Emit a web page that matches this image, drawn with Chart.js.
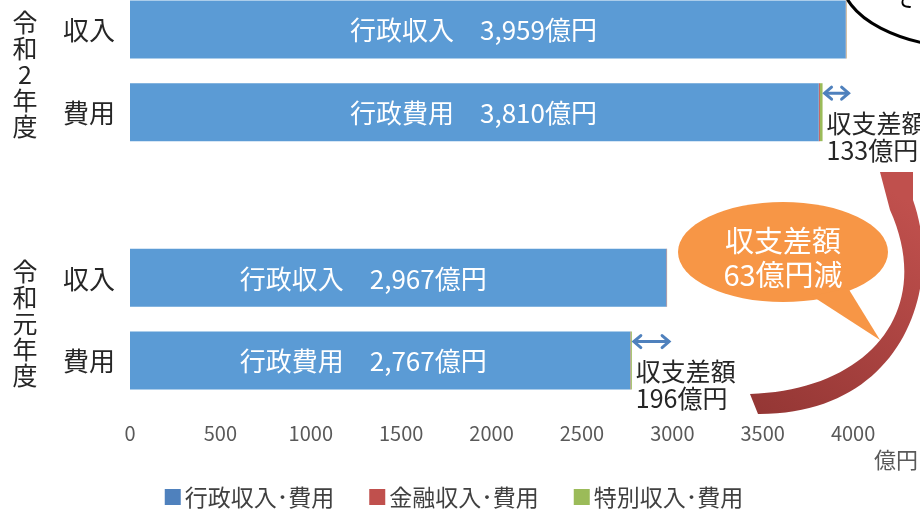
<!doctype html>
<html>
<head>
<meta charset="utf-8">
<title>収支差額</title>
<script src="https://cdn.jsdelivr.net/npm/chart.js@4.4.0/dist/chart.umd.min.js"></script>
<style>
html, body { margin: 0; padding: 0; background: #fff; overflow: hidden; }
#canvas-holder { position: absolute; left: 0; top: -12px; width: 920px; height: 523px; }
</style>
</head>
<body>
<div id="canvas-holder"><canvas id="chart-area"></canvas></div>
<script>
// data
var categories = ['収入', '費用', '', '収入', '費用'];
var yearLabels = ['令和2年度', '令和元年度'];
var seriesNames = ['行政収入･費用', '金融収入･費用', '特別収入･費用'];
var gyosei = [3959, 3810, null, 2967, 2767];
var kinyu = [3, 6, null, 3, 2];
var tokubetsu = [2, 15, null, 1, 7];
var barTexts = ['行政収入　3,959億円', '行政費用　3,810億円', '', '行政収入　2,967億円', '行政費用　2,767億円'];
var gapTexts = [['収支差額', '133億円'], ['収支差額', '196億円']];
var bubbleTexts = ['収支差額', '63億円減'];
var topNote = 'そ';
var unitLabel = '億円';
var xTickValues = [0, 500, 1000, 1500, 2000, 2500, 3000, 3500, 4000];
var xTickLabels = ['0', '500', '1000', '1500', '2000', '2500', '3000', '3500', '4000'];
var xMax = 4370;

var FONT = '"Noto Sans CJK JP", "Noto Sans", sans-serif';
var barColors = ['#5B9BD5', '#C0504D', '#9BBB59'];
var legendColors = ['#4F81BD', '#C0504D', '#9BBB59'];
var TOP = -12;   // canvas sits 12px above the page
function py(y) { return y - TOP; }

// year groups: [income row, cost row]
var groups = [[0, 1], [3, 4]];
var labelCenter = [1900, 1900, null, 1290, 1290];

function total(i) {
    return (gyosei[i] || 0) + (kinyu[i] || 0) + (tokubetsu[i] || 0);
}

function arrowHead(ctx, x, y, dir) {
    ctx.beginPath();
    ctx.moveTo(x - dir * 7, y - 6);
    ctx.lineTo(x, y);
    ctx.lineTo(x - dir * 7, y + 6);
    ctx.stroke();
}

var decor = {
    id: 'decor',
    afterDatasetsDraw: function(chart) {
        var ctx = chart.ctx;
        var xs = chart.scales.x, ys = chart.scales.y;
        ctx.save();

        // labels inside the bars
        ctx.font = '26px ' + FONT;
        ctx.fillStyle = '#fff';
        ctx.textAlign = 'center';
        ctx.textBaseline = 'middle';
        barTexts.forEach(function(t, i) {
            if (!t) return;
            ctx.fillText(t, xs.getPixelForValue(labelCenter[i]), ys.getPixelForValue(i) + 1);
        });

        // row names
        ctx.fillStyle = '#262626';
        ctx.textAlign = 'right';
        categories.forEach(function(c, i) {
            if (c) ctx.fillText(c, 115, ys.getPixelForValue(i) + 1);
        });

        // year labels, written top to bottom
        ctx.textAlign = 'center';
        ctx.font = '25px ' + FONT;
        groups.forEach(function(g, k) {
            var chars = Array.from(yearLabels[k]);
            var mid = (ys.getPixelForValue(g[0]) + ys.getPixelForValue(g[1])) / 2 + 4;
            var step = 26;
            var y0 = mid - step * (chars.length - 1) / 2;
            chars.forEach(function(c, j) {
                ctx.fillText(c, 25, y0 + j * step);
            });
        });

        // curved block arrow
        var grad = ctx.createLinearGradient(760, py(410), 905, py(200));
        grad.addColorStop(0, '#953735');
        grad.addColorStop(1, '#C0504D');
        ctx.fillStyle = grad;
        ctx.beginPath();
        ctx.moveTo(750, py(394));
        ctx.bezierCurveTo(870, py(390), 935, py(310), 890, py(210));
        ctx.lineTo(880, py(172));
        ctx.lineTo(913, py(172));
        ctx.lineTo(913, py(200));
        ctx.bezierCurveTo(945, py(290), 900, py(415), 758, py(414));
        ctx.closePath();
        ctx.fill();

        // difference arrows and texts
        groups.forEach(function(g, k) {
            var xa = xs.getPixelForValue(total(g[1]));
            var xb = xs.getPixelForValue(total(g[0]));
            var yc = ys.getPixelForValue(g[1]);
            var ya = yc - 19;
            ctx.strokeStyle = '#4F81BD';
            ctx.lineWidth = 3;
            ctx.lineCap = 'round';
            ctx.beginPath();
            ctx.moveTo(xa + 3, ya);
            ctx.lineTo(xb + 1, ya);
            ctx.stroke();
            arrowHead(ctx, xa + 2, ya, -1);
            arrowHead(ctx, xb + 2, ya, 1);

            ctx.fillStyle = '#262626';
            ctx.textAlign = 'left';
            ctx.font = '25px ' + FONT;
            ctx.fillText(gapTexts[k][0], xa + 4, yc + 11);
            ctx.fillText(gapTexts[k][1], xa + 4, yc + 38);
        });

        // orange speech bubble
        ctx.fillStyle = '#F79646';
        ctx.beginPath();
        ctx.ellipse(783, py(252), 105, 50, 0, 0, Math.PI * 2);
        ctx.fill();
        ctx.beginPath();
        ctx.moveTo(812, py(296));
        ctx.lineTo(880, py(340));
        ctx.lineTo(848, py(288));
        ctx.closePath();
        ctx.fill();
        ctx.fillStyle = '#fff';
        ctx.textAlign = 'center';
        ctx.font = '29px ' + FONT;
        ctx.fillText(bubbleTexts[0], 783, py(241));
        ctx.fillText(bubbleTexts[1], 783, py(275));

        // outline bubble cut at the top right
        ctx.strokeStyle = '#000';
        ctx.lineWidth = 3;
        ctx.beginPath();
        ctx.ellipse(974, py(-20), 132, 68, 0, 0, Math.PI * 2);
        ctx.stroke();
        ctx.fillStyle = '#000';
        ctx.font = '24px ' + FONT;
        ctx.textBaseline = 'alphabetic';
        ctx.fillText(topNote, 905, py(6));

        // unit
        ctx.fillStyle = '#595959';
        ctx.font = '22px ' + FONT;
        ctx.textAlign = 'right';
        ctx.textBaseline = 'middle';
        ctx.fillText(unitLabel, 918, py(460));

        // legend
        ctx.font = '23px ' + FONT;
        ctx.textAlign = 'left';
        var gap = 35, box = 16, boxGap = 4;
        var widths = seriesNames.map(function(s) { return box + boxGap + ctx.measureText(s).width; });
        var full = widths.reduce(function(a, b) { return a + b; }, 0) + gap * (seriesNames.length - 1);
        var lx = 454 - full / 2;
        var ly = py(497);
        seriesNames.forEach(function(s, i) {
            ctx.fillStyle = legendColors[i];
            ctx.fillRect(lx, ly - box / 2, box, box);
            ctx.fillStyle = '#404040';
            ctx.fillText(s, lx + box + boxGap, ly);
            lx += widths[i] + gap;
        });

        ctx.restore();
    }
};

var config = {
    type: 'bar',
    data: {
        labels: categories,
        datasets: [
            { label: seriesNames[0], data: gyosei, backgroundColor: barColors[0] },
            { label: seriesNames[1], data: kinyu, backgroundColor: barColors[1] },
            { label: seriesNames[2], data: tokubetsu, backgroundColor: barColors[2] }
        ]
    },
    options: {
        indexAxis: 'y',
        responsive: true,
        maintainAspectRatio: false,
        animation: false,
        barPercentage: 0.7,
        categoryPercentage: 1,
        borderWidth: 0,
        layout: { padding: { top: 0, left: 0, right: 0, bottom: 59 } },
        plugins: {
            legend: { display: false },
            tooltip: { enabled: false }
        },
        scales: {
            x: {
                stacked: true,
                min: 0,
                max: xMax,
                grid: { display: false, drawTicks: false },
                border: { display: false },
                ticks: {
                    autoSkip: false,
                    maxRotation: 0,
                    padding: 19,
                    color: '#595959',
                    font: { family: FONT, size: 20 },
                    callback: function(v, i) { return xTickLabels[i]; }
                },
                afterBuildTicks: function(scale) {
                    scale.ticks = xTickValues.map(function(v) { return { value: v }; });
                },
                afterFit: function(scale) { scale.height = 50; }
            },
            y: {
                stacked: true,
                grid: { display: false, drawTicks: false },
                border: { display: false },
                ticks: { display: false },
                afterFit: function(scale) { scale.width = 130; }
            }
        }
    },
    plugins: [decor]
};

window.onload = function() {
    var ctx = document.getElementById('chart-area').getContext('2d');
    window.myBar = new Chart(ctx, config);
};
</script>
</body>
</html>
